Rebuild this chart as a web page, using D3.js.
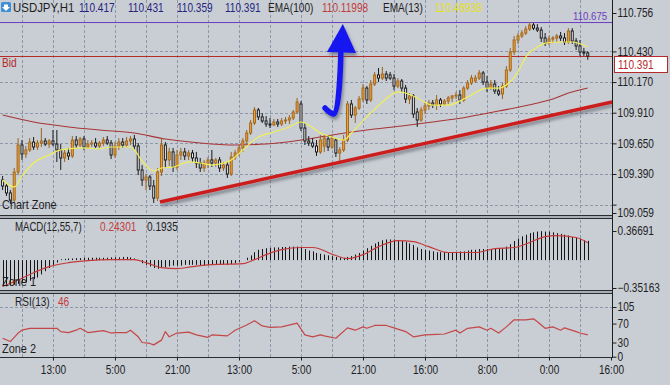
<!DOCTYPE html>
<html>
<head>
<meta charset="utf-8">
<script src="https://cdn.jsdelivr.net/npm/d3@7"></script>
<style>
  html, body { margin: 0; padding: 0; background: #cbcfd5; }
  svg { display: block; }
  text { font-family: "Liberation Sans", Arial, sans-serif; }
</style>
</head>
<body>
<div id="chart"></div>
<script>
// velas H1: [open, high, low, close]
const candles = [
  [109.339,109.373,109.254,109.288],[109.288,109.313,109.203,109.229],[109.229,109.254,109.135,109.169],[109.169,109.441,109.144,109.407],
  [109.407,109.695,109.381,109.636],[109.636,109.678,109.509,109.560],[109.560,109.627,109.526,109.594],[109.594,109.695,109.577,109.661],
  [109.661,109.704,109.594,109.619],[109.619,109.678,109.594,109.653],[109.653,109.780,109.619,109.670],[109.670,109.695,109.627,109.644],
  [109.644,109.687,109.611,109.670],[109.670,109.763,109.627,109.644],[109.644,109.763,109.492,109.594],[109.594,109.644,109.424,109.526],
  [109.526,109.594,109.492,109.568],[109.568,109.611,109.509,109.543],[109.543,109.712,109.526,109.678],[109.678,109.712,109.611,109.636],
  [109.636,109.704,109.619,109.687],[109.687,109.712,109.594,109.619],[109.619,109.678,109.602,109.644],[109.644,109.678,109.619,109.653],
  [109.653,109.695,109.611,109.627],[109.627,109.670,109.611,109.653],[109.653,109.704,109.627,109.678],[109.678,109.712,109.636,109.653],
  [109.653,109.678,109.517,109.551],[109.551,109.661,109.526,109.627],[109.627,109.695,109.594,109.661],[109.661,109.695,109.611,109.636],
  [109.636,109.704,109.619,109.670],[109.670,109.712,109.636,109.687],[109.687,109.721,109.594,109.627],[109.627,109.653,109.381,109.424],
  [109.424,109.466,109.288,109.339],[109.339,109.390,109.254,109.364],[109.364,109.381,109.254,109.288],[109.288,109.339,109.144,109.186],
  [109.186,109.441,109.161,109.407],[109.407,109.695,109.373,109.636],[109.636,109.661,109.441,109.509],[109.509,109.611,109.458,109.577],
  [109.577,109.611,109.407,109.449],[109.449,109.594,109.424,109.551],[109.551,109.611,109.509,109.577],[109.577,109.611,109.509,109.543],
  [109.543,109.594,109.509,109.568],[109.568,109.594,109.492,109.526],[109.526,109.577,109.441,109.483],[109.483,109.526,109.407,109.441],
  [109.441,109.509,109.407,109.483],[109.483,109.534,109.441,109.509],[109.509,109.594,109.449,109.483],[109.483,109.526,109.449,109.509],
  [109.509,109.534,109.407,109.441],[109.441,109.492,109.415,109.466],[109.466,109.492,109.356,109.390],[109.390,109.577,109.373,109.534],
  [109.534,109.594,109.509,109.568],[109.568,109.636,109.543,109.611],[109.611,109.695,109.577,109.670],[109.670,109.763,109.644,109.738],
  [109.738,109.848,109.721,109.823],[109.823,109.958,109.806,109.933],[109.933,109.950,109.848,109.874],[109.874,109.907,109.823,109.840],
  [109.840,109.882,109.789,109.814],[109.814,109.865,109.780,109.806],[109.806,109.857,109.797,109.831],[109.831,109.857,109.789,109.814],
  [109.814,109.865,109.797,109.840],[109.840,109.874,109.814,109.848],[109.848,109.890,109.814,109.865],[109.865,109.933,109.848,109.916],
  [109.916,110.035,109.899,110.001],[109.984,110.009,109.755,109.780],[109.780,109.823,109.636,109.670],[109.670,109.712,109.627,109.653],
  [109.653,109.695,109.611,109.627],[109.627,109.678,109.543,109.577],[109.577,109.721,109.560,109.678],[109.627,109.729,109.577,109.695],
  [109.687,109.721,109.585,109.619],[109.619,109.721,109.602,109.695],[109.678,109.695,109.534,109.568],[109.568,109.619,109.500,109.594],
  [109.594,109.721,109.577,109.678],[109.678,110.009,109.661,109.984],[109.984,110.018,109.865,109.890],[109.890,109.967,109.823,109.950],
  [109.950,110.052,109.933,110.026],[110.026,110.153,110.001,110.119],[110.119,110.136,109.984,110.018],[110.018,110.187,110.001,110.153],
  [110.153,110.255,110.136,110.230],[110.230,110.289,110.170,110.204],[110.204,110.298,110.187,110.238],[110.238,110.264,110.179,110.204],
  [110.230,110.255,110.187,110.204],[110.204,110.238,110.102,110.136],[110.136,110.204,110.119,110.179],[110.179,110.196,110.086,110.119],
  [110.119,110.145,109.992,110.026],[110.026,110.077,109.984,110.052],[110.052,110.069,109.865,109.899],[109.916,109.950,109.789,109.848],
  [109.848,109.958,109.831,109.933],[109.933,109.992,109.899,109.967],[109.967,110.018,109.933,109.992],[109.992,110.018,109.950,109.975],
  [109.975,110.060,109.933,110.018],[110.018,110.035,109.958,109.984],[109.984,110.026,109.967,110.009],[110.009,110.052,109.984,110.035],
  [110.035,110.060,110.001,110.052],[110.052,110.086,110.026,110.060],[110.060,110.102,109.984,110.018],[110.018,110.136,110.001,110.119],
  [110.119,110.187,110.102,110.162],[110.162,110.230,110.145,110.204],[110.179,110.230,110.162,110.204],[110.204,110.272,110.187,110.247],
  [110.247,110.264,110.145,110.170],[110.170,110.221,110.086,110.119],[110.119,110.187,110.102,110.153],[110.153,110.187,110.069,110.094],
  [110.094,110.136,110.052,110.069],[110.069,110.162,110.026,110.136],[110.136,110.306,110.119,110.272],[110.272,110.459,110.255,110.425],
  [110.425,110.561,110.399,110.527],[110.527,110.586,110.493,110.561],[110.561,110.611,110.544,110.586],[110.586,110.645,110.569,110.620],
  [110.620,110.679,110.603,110.654],[110.654,110.671,110.611,110.628],[110.628,110.662,110.595,110.611],[110.611,110.637,110.510,110.544],
  [110.544,110.586,110.476,110.501],[110.501,110.561,110.484,110.535],[110.535,110.561,110.501,110.544],[110.544,110.578,110.510,110.561],
  [110.561,110.595,110.518,110.544],[110.544,110.586,110.484,110.510],[110.510,110.628,110.493,110.603],[110.603,110.628,110.493,110.518],
  [110.518,110.544,110.442,110.476],[110.476,110.527,110.391,110.425],[110.425,110.459,110.391,110.416],[110.417,110.431,110.359,110.391]
];

// medias moviles: [barra, precio]
const ema13 = [
  [0,109.339],[3,109.280],[5,109.373],[8,109.483],[12,109.551],[15,109.594],[21,109.611],[25,109.602],[28,109.619],[33,109.619],
  [34,109.594],[36,109.500],[39,109.415],[41,109.441],[44,109.449],[48,109.492],[51,109.483],[54,109.466],[56,109.475],[59,109.509],
  [62,109.594],[66,109.704],[70,109.746],[74,109.789],[77,109.831],[79,109.806],[82,109.738],[85,109.704],[88,109.678],[90,109.738],
  [94,109.874],[98,110.001],[102,110.086],[104,110.077],[107,110.035],[111,109.975],[115,109.975],[120,110.043],[125,110.119],[128,110.119],
  [130,110.145],[133,110.255],[135,110.382],[138,110.467],[140,110.501],[144,110.510],[147,110.510],[151,110.469]
];
const ema100 = [
  [0,109.890],[8,109.831],[17,109.789],[25,109.763],[34,109.738],[42,109.687],[51,109.653],[60,109.636],[68,109.644],[77,109.678],
  [85,109.721],[94,109.763],[103,109.797],[111,109.831],[120,109.874],[128,109.924],[137,109.984],[142,110.026],[146,110.077],[151,110.120]
];

// MACD(12,55,7)
const macdHist = [
  -0.33,-0.33,-0.32,-0.31,-0.30,-0.29,-0.28,-0.26,-0.24,-0.22,-0.18,-0.14,-0.10,-0.06,-0.03,
  0.01,0.015,0.02,0.02,0.025,0.025,0.03,0.03,0.03,0.03,0.03,0.03,0.03,0.035,0.035,0.035,0.04,0.04,0.035,
  0.02,-0.01,-0.04,-0.06,-0.08,-0.10,-0.11,-0.10,-0.09,-0.08,-0.07,
  -0.07,-0.07,-0.06,-0.06,-0.06,-0.06,-0.07,-0.07,-0.06,-0.06,-0.06,-0.06,-0.06,-0.06,-0.05,-0.04,
  -0.02,0.0,0.03,0.06,0.10,0.13,
  0.14,0.15,0.155,0.16,0.16,0.165,0.165,0.17,0.17,0.17,
  0.16,0.14,0.12,0.11,0.09,0.08,0.07,0.06,0.05,0.04,
  0.03,0.03,0.04,0.05,
  0.07,0.09,0.12,0.15,0.18,0.21,0.23,0.25,0.26,0.26,
  0.26,0.25,0.24,0.23,0.21,0.19,
  0.16,0.14,0.13,0.12,0.11,0.10,0.10,
  0.10,0.10,0.10,0.10,0.11,0.11,0.12,0.13,0.13,0.14,0.14,
  0.14,0.14,0.15,0.15,0.15,0.17,
  0.20,0.24,0.27,0.30,0.32,0.34,0.35,0.36,
  0.365,0.36,0.36,0.35,
  0.34,0.33,0.32,0.31,0.29,0.28,0.27,0.25,0.243
];
const macdSignal = [
  [0,-0.334],[4,-0.25],[8,-0.158],[12,-0.082],[17,-0.032],[22,-0.006],[28,0.006],[34,0.006],[37,-0.032],[41,-0.095],
  [45,-0.107],[49,-0.082],[54,-0.057],[62,-0.044],[65,0.006],[68,0.069],[72,0.132],[77,0.158],[80,0.158],[86,0.057],
  [89,0.019],[93,0.069],[97,0.170],[102,0.246],[106,0.233],[110,0.170],[115,0.095],[122,0.095],[127,0.145],[132,0.158],
  [136,0.221],[140,0.296],[143,0.309],[148,0.284],[151,0.22]
];

// RSI(13): [barra, valor]
const rsi = [
  [0,39],[2,32],[4,50],[5,56],[7,60],[11,60],[14,60],[15,53],[17,51],[19,56],[20,60],[22,51],[24,53],[26,55],[28,50],[29,51],
  [32,51],[33,56],[35,42],[36,30],[38,28],[39,25],[41,35],[42,53],[43,42],[45,50],[48,52],[50,46],[53,41],[54,46],[58,44],
  [60,56],[63,67],[65,76],[67,65],[69,62],[72,63],[76,71],[78,46],[80,42],[82,46],[83,44],[86,39],[89,61],[91,56],[93,63],
  [94,60],[96,66],[99,66],[101,61],[104,53],[106,42],[109,46],[112,47],[114,48],[117,56],[118,50],[120,60],[123,63],[125,56],
  [126,60],[128,50],[130,63],[132,78],[135,78],[137,80],[138,74],[140,60],[142,63],[144,56],[145,61],[148,53],[149,50],[151,46]
];

const timeLabels = ["13:00","5:00","21:00","13:00","5:00","21:00","16:00","8:00","0:00","16:00"];
const timeBars = [13,29,45,61,77,93,109,125,141,157];
const priceLabels = [110.756,110.430,110.170,109.910,109.650,109.390,109.059];
const priceGrid = [110.430,110.170,109.910,109.650,109.390,109.130];
const macdLabels = [0.36691,-0.35163];
const rsiLabels = [105,70,30,0];

// objetos dibujados: [barra, precio]
const trendLow = [[40.6,109.152],[157.3,110.001]];
const trendTop = [[125.8,110.682],[157.3,110.682]];
const arrowShaft = [[83.2,109.950],[85.5,109.899],[87.3,110.425]];
const arrowHead = [[83.7,110.425],[87.8,110.663],[91.2,110.417]];
const hLine = 110.675;
const bid = 110.391;

const width = 670, height = 385;
const axisX = 612.5;
const narrow = 0.84;   // no hay fuente estrecha, se comprime en x

const x = d3.scaleLinear().domain([0, 157]).range([2.6, 611]);
const y = d3.scaleLinear().domain([109.059, 110.756]).range([213, 13]);
const yMacd = d3.scaleLinear().domain([-0.35163, 0.36691]).range([288, 231]);
const yRsi = d3.scaleLinear().domain([0, 105]).range([356.7, 307]);

const svg = d3.select("#chart").append("svg")
    .attr("width", width)
    .attr("height", height);

const defs = svg.append("defs");
const shadow = defs.append("filter").attr("id", "sombra")
    .attr("x", "-20%").attr("y", "-20%").attr("width", "140%").attr("height", "160%");
shadow.append("feDropShadow")
    .attr("dx", 1.5).attr("dy", 3).attr("stdDeviation", 1.6)
    .attr("flood-color", "#4a4f58").attr("flood-opacity", 0.55);

const panels = [
  {id: "cMain", top: 0, bottom: 215},
  {id: "cMacd", top: 220, bottom: 290},
  {id: "cRsi", top: 294, bottom: 357}
];
panels.forEach(p => {
  defs.append("clipPath").attr("id", p.id)
    .append("rect").attr("x", 0).attr("y", p.top).attr("width", axisX).attr("height", p.bottom - p.top);
});

svg.append("rect").attr("width", width).attr("height", height).attr("fill", "#c9cdd4");

// rejilla
const gridColor = "#8c97aa";
const vGrid = d3.range(5, 157, 8);
panels.forEach(p => {
  svg.append("g")
    .selectAll("line")
    .data(vGrid)
    .join("line")
      .attr("x1", d => Math.round(x(d)) + 0.5)
      .attr("x2", d => Math.round(x(d)) + 0.5)
      .attr("y1", p.top)
      .attr("y2", p.bottom)
      .attr("stroke", gridColor)
      .attr("stroke-dasharray", "3,2");
});

svg.append("g")
  .selectAll("line")
  .data(priceGrid)
  .join("line")
    .attr("x1", 0).attr("x2", axisX)
    .attr("y1", d => Math.round(y(d)) + 0.5)
    .attr("y2", d => Math.round(y(d)) + 0.5)
    .attr("stroke", gridColor)
    .attr("stroke-dasharray", "3,2");

svg.append("line")
    .attr("x1", 0).attr("x2", axisX)
    .attr("y1", Math.round(yRsi(105)) + 0.5).attr("y2", Math.round(yRsi(105)) + 0.5)
    .attr("stroke", gridColor).attr("stroke-dasharray", "3,2");

// panel principal
const main = svg.append("g").attr("clip-path", "url(#cMain)");

main.append("line")
    .attr("x1", 0).attr("x2", axisX)
    .attr("y1", y(hLine)).attr("y2", y(hLine))
    .attr("stroke", "#6b3cc0").attr("stroke-width", 1);

main.append("line")
    .attr("x1", 0).attr("x2", axisX)
    .attr("y1", Math.round(y(bid)) + 0.5).attr("y2", Math.round(y(bid)) + 0.5)
    .attr("stroke", "#b52a2a").attr("stroke-width", 1);

const lineXY = d3.line().x(d => x(d[0])).y(d => y(d[1])).curve(d3.curveMonotoneX);

main.append("path")
    .datum(ema100)
    .attr("d", lineXY)
    .attr("fill", "none")
    .attr("stroke", "#a83535")
    .attr("stroke-width", 1.1);

const bull = d => d[3] <= d[0];
const velas = main.append("g");
velas.selectAll("line")
  .data(candles)
  .join("line")
    .attr("x1", (d, i) => x(i)).attr("x2", (d, i) => x(i))
    .attr("y1", d => y(d[1])).attr("y2", d => y(d[2]))
    .attr("stroke", d => bull(d) ? "#1b1b1b" : "#9a6418")
    .attr("stroke-width", 1);
velas.selectAll("rect")
  .data(candles)
  .join("rect")
    .attr("x", (d, i) => x(i) - 1)
    .attr("y", d => y(Math.max(d[0], d[3])))
    .attr("width", 2)
    .attr("height", d => Math.max(0.8, Math.abs(y(d[0]) - y(d[3]))))
    .attr("fill", d => bull(d) ? "#f2f2f2" : "#e8a337")
    .attr("stroke", d => bull(d) ? "#1b1b1b" : "#a8681c")
    .attr("stroke-width", 1);

main.append("path")
    .datum(ema13)
    .attr("d", lineXY)
    .attr("fill", "none")
    .attr("stroke", "#f0f058")
    .attr("stroke-width", 1.2);

// lineas de tendencia
const straight = d3.line().x(d => x(d[0])).y(d => y(d[1]));
[trendLow, trendTop].forEach(t => {
  main.append("path")
      .datum(t)
      .attr("d", straight)
      .attr("stroke", "#cc1f1f")
      .attr("stroke-width", 3.5)
      .attr("fill", "none")
      .attr("filter", "url(#sombra)");
});

// flecha azul
const flecha = main.append("g").attr("filter", "url(#sombra)");
flecha.append("path")
    .datum(arrowShaft)
    .attr("d", d3.line().x(d => x(d[0])).y(d => y(d[1])).curve(d3.curveCatmullRom))
    .attr("fill", "none")
    .attr("stroke", "#1818f0")
    .attr("stroke-width", 5.5)
    .attr("stroke-linecap", "round")
    .attr("stroke-linejoin", "round");
flecha.append("path")
    .datum(arrowHead)
    .attr("d", d => straight(d) + "Z")
    .attr("fill", "#1818f0");

// MACD
const macdG = svg.append("g").attr("clip-path", "url(#cMacd)");
macdG.selectAll("line")
  .data(macdHist)
  .join("line")
    .attr("x1", (d, i) => Math.round(x(i)) + 0.5)
    .attr("x2", (d, i) => Math.round(x(i)) + 0.5)
    .attr("y1", yMacd(0))
    .attr("y2", d => yMacd(d))
    .attr("stroke", "#141414")
    .attr("stroke-width", 1);
macdG.append("path")
    .datum(macdSignal)
    .attr("d", d3.line().x(d => x(d[0])).y(d => yMacd(d[1])).curve(d3.curveMonotoneX))
    .attr("fill", "none")
    .attr("stroke", "#c43a3a")
    .attr("stroke-width", 1.1);

// RSI
const rsiG = svg.append("g").attr("clip-path", "url(#cRsi)");
rsiG.append("path")
    .datum(rsi)
    .attr("d", d3.line().x(d => x(d[0])).y(d => yRsi(d[1])))
    .attr("fill", "none")
    .attr("stroke", "#c44848")
    .attr("stroke-width", 1.2)
    .attr("stroke-linejoin", "round");

// separadores
[[215.5, 218.5], [290.5, 293.5]].forEach(s => {
  svg.append("rect").attr("x", 0).attr("y", s[0]).attr("width", axisX).attr("height", s[1] - s[0]).attr("fill", "#a9aeb6");
  s.forEach(v => svg.append("line").attr("x1", 0).attr("x2", axisX).attr("y1", v).attr("y2", v).attr("stroke", "#2a2c30"));
});
svg.append("line").attr("x1", 0).attr("x2", axisX).attr("y1", 357.5).attr("y2", 357.5).attr("stroke", "#2a2c30");
svg.append("line").attr("x1", axisX).attr("x2", axisX).attr("y1", 0).attr("y2", 358).attr("stroke", "#1e1e1e");

// ejes
const rightAxis = (scale, values, fmt) => g => g
    .attr("transform", `translate(${axisX},0)`)
    .call(d3.axisRight(scale).tickValues(values).tickFormat(fmt).tickSize(4).tickPadding(2))
    .call(g => g.select(".domain").remove())
    .call(g => g.selectAll("line").attr("stroke", "#1e1e1e"))
    .call(g => g.selectAll("text")
        .attr("fill", "#1e1e1e")
        .attr("transform", `scale(${narrow},1)`)
        .style("font-size", "12px")
        .style("font-family", "'Liberation Sans',Arial,sans-serif"));

svg.append("g").call(rightAxis(y, priceLabels.concat([109.130]), d => d === 109.130 ? "" : d3.format(".3f")(d)));
svg.append("g").call(rightAxis(yMacd, macdLabels, d => d3.format(".5f")(d)));
svg.append("g").call(rightAxis(yRsi, rsiLabels, d => d));

svg.append("g")
    .attr("transform", "translate(0,357.5)")
    .call(d3.axisBottom(x).tickValues(timeBars).tickFormat((d, i) => timeLabels[i]).tickSize(3).tickPadding(5))
    .call(g => g.select(".domain").remove())
    .call(g => g.selectAll("line").attr("stroke", "#1e1e1e"))
    .call(g => g.selectAll("text")
        .attr("fill", "#1e1e1e")
        .attr("transform", `scale(${narrow},1)`)
        .style("font-size", "12px")
        .style("font-family", "'Liberation Sans',Arial,sans-serif"));

// textos
function txt(xp, yp, s, color, size, sx) {
  return svg.append("text")
    .attr("transform", `translate(${xp},${yp}) scale(${sx || narrow},1)`)
    .attr("fill", color)
    .style("font-size", size || "12px")
    .text(s);
}

// etiqueta bid
svg.append("rect")
    .attr("x", 614.5).attr("y", Math.round(y(bid)) + 0.5)
    .attr("width", 53).attr("height", 16)
    .attr("fill", "#ffffff").attr("stroke", "#b52a2a");
txt(618, Math.round(y(bid)) + 13, d3.format(".3f")(bid), "#b52a2a");

// icono
svg.append("rect").attr("x", 1).attr("y", 2).attr("width", 10).attr("height", 10).attr("rx", 1.5).attr("fill", "#3d8fd6");
svg.append("path").attr("d", "M4,4.5h4v2.5h2l-4,4l-4,-4h2z").attr("fill", "#ffffff");

txt(13, 12, "USDJPY,H1", "#1e1e1e", "13px", 0.88);
txt(79, 12, "110.417", "#252580");
txt(128, 12, "110.431", "#252580");
txt(177, 12, "110.359", "#252580");
txt(225, 12, "110.391", "#252580");
txt(268, 12, "EMA(100)", "#1e1e1e");
txt(322, 12, "110.11998", "#c23c3c");
txt(383, 12, "EMA(13)", "#1e1e1e");
txt(435, 12, "110.46938", "#e6e020");

txt(573, y(hLine) - 2.5, "110.675", "#6b3cc0", "11.5px");

txt(2, 67, "Bid", "#b52a2a");
txt(2, 209, "Chart Zone", "#1e1e1e", "13px");
txt(15, 231, "MACD(12,55,7)", "#1e1e1e", "12px", 0.8);
txt(100, 231, "0.24301", "#c23c3c");
txt(147, 231, "0.1935", "#1e1e1e");
txt(2, 286, "Zone 1", "#1e1e1e", "13px");
txt(15, 306, "RSI(13)", "#1e1e1e");
txt(58, 306, "46", "#c23c3c");
txt(2, 353, "Zone 2", "#1e1e1e", "13px");
</script>
</body>
</html>
